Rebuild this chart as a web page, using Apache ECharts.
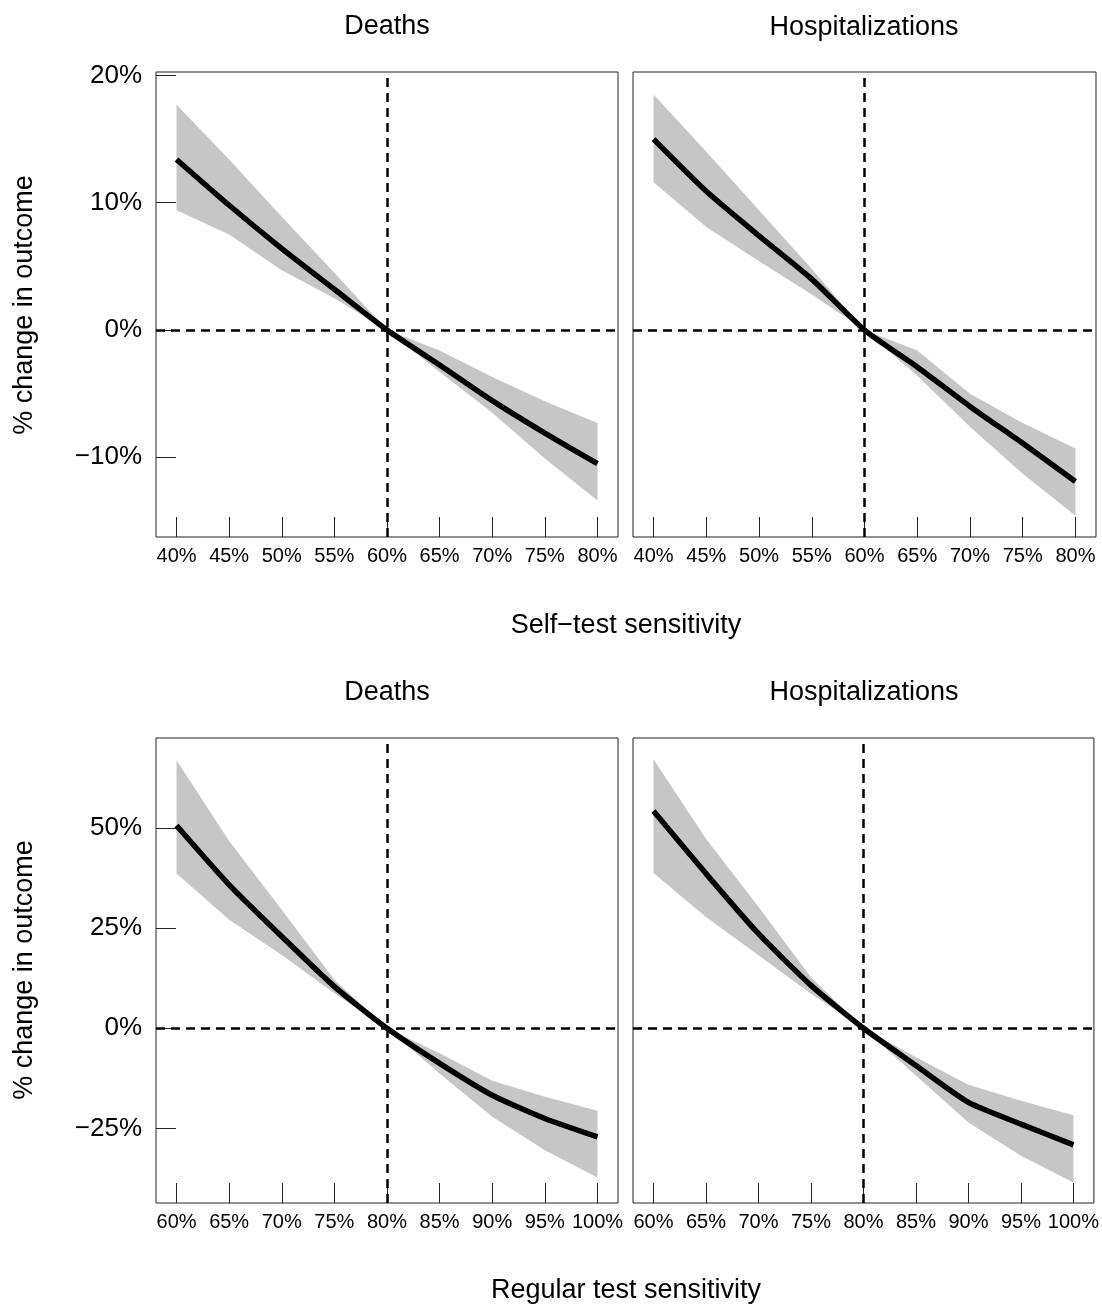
<!DOCTYPE html>
<html>
<head>
<meta charset="utf-8">
<script src="https://cdn.jsdelivr.net/npm/echarts@6/dist/echarts.min.js"></script>
<style>
  html, body { margin: 0; padding: 0; background: #fff; }
  #main { width: 1102px; height: 1307px; }
</style>
</head>
<body>
<div id="main"></div>
<script>
// x values (sensitivity, %)
var selfTestX = [40, 45, 50, 55, 60, 65, 70, 75, 80];
var regularTestX = [60, 65, 70, 75, 80, 85, 90, 95, 100];

// top row: self-test sensitivity
var selfDeaths   = [13.4, 9.8, 6.4, 3.2, 0, -2.75, -5.55, -8.1, -10.5];
var selfDeathsHi = [17.7, 13.4, 8.9, 4.5, 0, -1.6, -3.7, -5.6, -7.3];
var selfDeathsLo = [9.4, 7.5, 4.7, 2.5, 0, -3.3, -6.5, -10.1, -13.4];

var selfHosp   = [15.0, 10.9, 7.4, 4.0, 0, -2.9, -6.0, -8.9, -11.9];
var selfHospHi = [18.5, 14.0, 9.4, 4.8, 0, -1.6, -5.0, -7.3, -9.3];
var selfHospLo = [11.6, 8.1, 5.4, 2.8, 0, -3.6, -7.6, -11.3, -14.6];

// bottom row: regular test sensitivity
var regDeaths   = [50.6, 35.8, 22.9, 10.4, 0, -8.75, -16.7, -22.5, -27.1];
var regDeathsHi = [66.9, 46.7, 29.6, 12.1, 0, -6.25, -13.1, -17.1, -20.6];
var regDeathsLo = [38.6, 27.1, 18.3, 8.75, 0, -11.25, -22.1, -30.4, -37.25];

var regHosp   = [54.2, 38.6, 23.6, 10.7, 0, -9.3, -18.5, -23.9, -29.1];
var regHospHi = [67.1, 47.3, 30.3, 12.75, 0, -7.25, -14.1, -18.1, -21.7];
var regHospLo = [38.75, 27.75, 18.2, 8.6, 0, -11.8, -23.5, -31.8, -38.5];

// tick labels
var selfTicks = [40, 45, 50, 55, 60, 65, 70, 75, 80];
var regTicks = [60, 65, 70, 75, 80, 85, 90, 95, 100];
var topYTicks = [-10, 0, 10, 20];
var botYTicks = [-25, 0, 25, 50];

var FONT = "'Liberation Sans', Arial, sans-serif";
var chart = echarts.init(document.getElementById('main'), null, { renderer: 'canvas' });

function pct(v) {
  return (v < 0 ? '\u2212' + Math.abs(v) : v) + '%';
}

function pairs(xs, ys) {
  return xs.map(function (x, i) { return [x, ys[i]]; });
}

// ribbon drawn as one polygon, through the axis scales
function band(xs, lo, hi, idx) {
  return {
    type: 'custom',
    xAxisIndex: idx,
    yAxisIndex: idx,
    z: 1,
    silent: true,
    data: pairs(xs, lo),
    renderItem: function (params, api) {
      if (params.dataIndex !== 0) return;
      var pts = [];
      for (var i = 0; i < xs.length; i++) pts.push(api.coord([xs[i], hi[i]]));
      for (var j = xs.length - 1; j >= 0; j--) pts.push(api.coord([xs[j], lo[j]]));
      return {
        type: 'polygon',
        shape: { points: pts },
        style: { fill: '#c6c6c6', stroke: null }
      };
    }
  };
}

function line(xs, ys, idx, refX) {
  return {
    type: 'line',
    xAxisIndex: idx,
    yAxisIndex: idx,
    z: 3,
    data: pairs(xs, ys),
    showSymbol: false,
    smooth: 0.2,
    silent: true,
    lineStyle: { color: '#000', width: 5.5 },
    markLine: {
      silent: true,
      symbol: 'none',
      label: { show: false },
      lineStyle: { color: '#000', width: 2.5, type: [9, 6] },
      data: [{ xAxis: refX }, { yAxis: 0 }]
    }
  };
}

var grids = [
  { left: 156, top: 72, width: 462, height: 465 },
  { left: 633, top: 72, width: 463, height: 465 },
  { left: 156, top: 738, width: 462, height: 465 },
  { left: 633, top: 738, width: 463, height: 465 }
].map(function (g) {
  g.show = true; g.borderColor = '#222'; g.borderWidth = 1; g.backgroundColor = 'transparent';
  return g;
});

function xAxis(idx, min, max, ticks) {
  return {
    type: 'value', gridIndex: idx, min: min, max: max,
    axisLine: { show: false, onZero: false },
    splitLine: { show: false },
    axisTick: { show: true, inside: true, length: 20, customValues: ticks, lineStyle: { color: '#222', width: 1 } },
    axisLabel: { show: true, customValues: ticks, formatter: pct, margin: 9, color: '#000', fontSize: 20, fontFamily: FONT }
  };
}

function yAxis(idx, min, max, ticks, showLabels) {
  return {
    type: 'value', gridIndex: idx, min: min, max: max,
    axisLine: { show: false, onZero: false },
    splitLine: { show: false },
    axisTick: { show: showLabels, inside: true, length: 20, customValues: ticks, lineStyle: { color: '#222', width: 1 } },
    axisLabel: { show: showLabels, customValues: ticks, formatter: pct, margin: 14, color: '#000', fontSize: 26, fontFamily: FONT }
  };
}

function txt(x, y, s, rot) {
  return {
    type: 'text', x: x, y: y, rotation: rot || 0,
    style: { text: s, fill: '#000', font: '27px ' + FONT, textAlign: 'center', textVerticalAlign: 'middle' }
  };
}

var option = {
  animation: false,
  backgroundColor: '#fff',
  grid: grids,
  xAxis: [
    xAxis(0, 38.05, 81.95, selfTicks),
    xAxis(1, 38.05, 81.95, selfTicks),
    xAxis(2, 58.05, 101.95, regTicks),
    xAxis(3, 58.05, 101.95, regTicks)
  ],
  yAxis: [
    yAxis(0, -16.26, 20.27, topYTicks, true),
    yAxis(1, -16.26, 20.27, topYTicks, false),
    yAxis(2, -43.59, 72.43, botYTicks, true),
    yAxis(3, -43.59, 72.43, botYTicks, false)
  ],
  graphic: [
    txt(387, 27, 'Deaths'),
    txt(864, 28, 'Hospitalizations'),
    txt(387, 693, 'Deaths'),
    txt(864, 693, 'Hospitalizations'),
    txt(626, 626, 'Self\u2212test sensitivity'),
    txt(626, 1291, 'Regular test sensitivity'),
    txt(25, 305, '% change in outcome', Math.PI / 2),
    txt(25, 970, '% change in outcome', Math.PI / 2)
  ],
  series: [
    band(selfTestX, selfDeathsLo, selfDeathsHi, 0),
    line(selfTestX, selfDeaths, 0, 60),
    band(selfTestX, selfHospLo, selfHospHi, 1),
    line(selfTestX, selfHosp, 1, 60),
    band(regularTestX, regDeathsLo, regDeathsHi, 2),
    line(regularTestX, regDeaths, 2, 80),
    band(regularTestX, regHospLo, regHospHi, 3),
    line(regularTestX, regHosp, 3, 80)
  ]
};

chart.setOption(option);
</script>
</body>
</html>
